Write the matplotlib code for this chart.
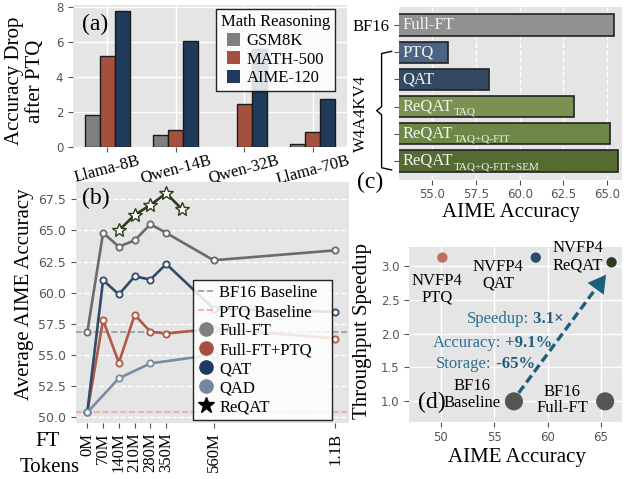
import numpy as np
import matplotlib.pyplot as plt
from matplotlib.lines import Line2D

plt.rcParams['font.family'] = ['Liberation Serif', 'DejaVu Serif']
plt.rcParams['axes.unicode_minus'] = False

BG = '#E5E5E5'
TICK = '#555555'

# (a) accuracy drop after PTQ
models = ['Llama-8B', 'Qwen-14B', 'Qwen-32B', 'Llama-70B']
gsm8k = [1.85, 0.70, 0.0, 0.19]
math500 = [5.21, 0.97, 2.47, 0.83]
aime120 = [7.73, 6.07, 5.6, 2.71]

# (b) AIME accuracy vs fine-tuning tokens
tok_labels = ['0M', '70M', '140M', '210M', '280M', '350M', '560M', '1.1B']
tok_pos = [0, 70, 140, 210, 280, 350, 560, 1100]
fullft_y = [56.8, 64.8, 63.7, 64.2, 65.5, 64.8, 62.6, 63.4]
ftptq_y = [50.35, 57.8, 54.35, 58.2, 56.85, 56.7, 57.1, 56.3]
qat_y = [50.35, 61.0, 59.85, 61.3, 61.05, 62.3, 58.7, 58.45]
qad_x = [0, 140, 280, 560]
qad_y = [50.35, 53.1, 54.3, 55.0]
reqat_x = [140, 210, 280, 350, 420]
reqat_y = [65.0, 66.25, 67.05, 68.0, 66.7]
bf16_base = 56.8
ptq_base = 50.35

# (c) ablation
c_names = ['Full-FT', 'PTQ', 'QAT', 'ReQAT', 'ReQAT', 'ReQAT']
c_subs = ['', '', '', 'TAQ', 'TAQ+Q-FIT', 'TAQ+Q-FIT+SEM']
c_vals = [65.42, 55.9, 58.27, 63.1, 65.17, 65.6]
c_colors = ['#919191', '#4b6483', '#344861', '#7b9150', '#6c8746', '#556b32']

# (d) speedup vs accuracy
d_names = ['NVFP4\nPTQ', 'NVFP4\nQAT', 'NVFP4\nReQAT', 'BF16\nBaseline', 'BF16\nFull-FT']
d_acc = [50.15, 58.9, 66.0, 56.85, 65.4]
d_speed = [3.12, 3.12, 3.05, 1.0, 1.0]
d_colors = ['#c0705a', '#2e4a6a', '#2d3a1e', '#555555', '#555555']
d_sizes = [55, 55, 55, 170, 170]
d_offsets = [(-4, -23), (-27, -13), (-24, 4), (-30, 5), (-31, 1)]


def style_ax(ax, size=8.5):
    ax.set_facecolor(BG)
    for s in ax.spines.values():
        s.set_visible(False)
    ax.tick_params(colors=TICK, length=3.5, width=0.8, labelsize=size)
    ax.set_axisbelow(True)


def sans_ticks(labels):
    for t in labels:
        t.set_fontfamily('DejaVu Sans')
        t.set_color(TICK)


fig = plt.figure(figsize=(6.27, 4.79), dpi=100)
W, H = 627, 479


def box(l, t, r, b):
    return [l / W, 1 - b / H, (r - l) / W, (b - t) / H]


# ---------- (a)
ax = fig.add_axes(box(73, 5, 347, 147))
style_ax(ax)
ax.grid(True, color='white', lw=1.0)
x = np.arange(len(models))
bw = 0.22
ax.bar(x - bw, gsm8k, bw, color='#7f7f7f', edgecolor='#1a1a1a',
       lw=[1 if v > 0 else 0 for v in gsm8k], label='GSM8K')
ax.bar(x, math500, bw, color='#a5503e', edgecolor='#1a1a1a', lw=1, label='MATH-500')
ax.bar(x + bw, aime120, bw, color='#1f3a5a', edgecolor='#1a1a1a', lw=1, label='AIME-120')
ax.set_xlim(-0.5, 3.5)
ax.set_ylim(0, 8.1)
ax.set_yticks([0, 2, 4, 6, 8])
sans_ticks(ax.get_yticklabels())
ax.set_xticks(x)
ax.set_xticklabels(models, rotation=15, fontsize=12, color='black', ha='center')
ax.tick_params(axis='x', pad=0.5)
ax.text(0.08, 0.86, '(a)', transform=ax.transAxes, fontsize=17, ha='center', va='center')
ax.text(-0.175, 0.465, 'Accuracy Drop\nafter PTQ', transform=ax.transAxes, fontsize=15,
        rotation=90, ha='center', va='center', linespacing=1.1)
leg = ax.legend(title='Math Reasoning', loc='upper right', bbox_to_anchor=(0.956, 0.97),
                borderaxespad=0, fontsize=12, title_fontsize=12, fancybox=False,
                edgecolor='black', framealpha=0.85, handlelength=0.8, handleheight=0.8,
                handletextpad=0.4, labelspacing=0.15, borderpad=0.3)
leg.get_frame().set_linewidth(1.0)
for h in leg.legend_handles:
    h.set_edgecolor('none')
    h.set_linewidth(0)

# ---------- (b)
ax = fig.add_axes(box(76, 182, 349, 423))
style_ax(ax, 9)
ax.yaxis.grid(True, color='white', lw=1.0, ls='--')
ax.axhline(bf16_base, color='#9a9a9a', ls='--', lw=1.2, zorder=1)
ax.axhline(ptq_base, color='#f4a6a6', ls='--', lw=1.2, zorder=1)
mk = dict(marker='o', ms=4.5, mfc='white', mew=1.3, lw=1.9)
ax.plot(tok_pos, fullft_y, color='#6b6b6b', mec='#6b6b6b', **mk)
ax.plot(tok_pos, ftptq_y, color='#b05a46', mec='#b05a46', **mk)
ax.plot(tok_pos, qat_y, color='#324b69', mec='#324b69', **mk)
ax.plot(qad_x, qad_y, color='#788ca5', mec='#788ca5', **mk)
ax.plot(reqat_x, reqat_y, color='#2e3d1c', lw=1.9, marker='*', ms=10, mfc='white',
        mec='#2e3d1c', mew=1.0)
ax.set_xlim(-50, 1160)
ax.set_ylim(49.5, 68.9)
yt = np.arange(50, 68, 2.5)
ax.set_yticks(yt)
ax.set_yticklabels([f'{v:.1f}' for v in yt])
sans_ticks(ax.get_yticklabels())
ax.set_xticks(tok_pos)
ax.set_xticklabels(tok_labels, rotation=90, fontsize=12, color='black')
ax.text(0.073, 0.93, '(b)', transform=ax.transAxes, fontsize=17, ha='center', va='center')
ax.text(-0.19, 0.535, 'Average AIME Accuracy', transform=ax.transAxes, fontsize=15,
        rotation=90, ha='center', va='center')
fig.text(48 / W, 1 - 441 / H, 'FT', fontsize=15, ha='center', va='center')
fig.text(50 / W, 1 - 467 / H, 'Tokens', fontsize=15, ha='center', va='center')
handles = [Line2D([], [], color='#9a9a9a', ls='--', lw=1.2),
           Line2D([], [], color='#f4a6a6', ls='--', lw=1.2),
           Line2D([], [], ls='', marker='o', ms=9.5, color='#7f7f7f'),
           Line2D([], [], ls='', marker='o', ms=9.5, color='#a5503e'),
           Line2D([], [], ls='', marker='o', ms=9.5, color='#1f3a5f'),
           Line2D([], [], ls='', marker='o', ms=9.5, color='#7587a0'),
           Line2D([], [], ls='', marker='*', ms=12, color='black')]
names = ['BF16 Baseline', 'PTQ Baseline', 'Full-FT', 'Full-FT+PTQ', 'QAT', 'QAD', 'ReQAT']
lx0 = (192.7 - 76) / 273
lx1 = (331.7 - 76) / 273
leg = ax.legend(handles, names, loc='lower left', mode='expand',
                bbox_to_anchor=(lx0, 0.012, lx1 - lx0, 0.6),
                borderaxespad=0, fontsize=12, fancybox=False, edgecolor='black',
                framealpha=0.85, handlelength=1.0, handletextpad=0.3, labelspacing=0.18,
                borderpad=0.3)
leg.get_frame().set_linewidth(1.0)

# ---------- (c)
ax = fig.add_axes(box(399, 7, 622, 180))
style_ax(ax)
ax.xaxis.grid(True, color='white', lw=1.0, ls='--')
rows = np.arange(len(c_vals))
ax.barh(rows, c_vals, 0.78, color=c_colors, edgecolor='#222222', lw=1.2)
ax.set_xlim(53.1, 65.85)
ax.set_ylim(5.7, -0.66)
ax.set_xticks([55, 57.5, 60, 62.5, 65])
ax.set_xticklabels(['55.0', '57.5', '60.0', '62.5', '65.0'])
sans_ticks(ax.get_xticklabels())
ax.tick_params(axis='x', pad=2.5)
ax.set_yticks(rows)
ax.set_yticklabels(['BF16', '', '', '', '', ''], fontsize=12, color='black')
for i, (n, s) in enumerate(zip(c_names, c_subs)):
    t = ax.text(53.3, i, n, fontsize=12, color='#f2f2f2', ha='left', va='center')
    if s:
        ax.annotate(s, xy=(1.0, 0.0), xycoords=t, xytext=(0.3, -1.5),
                    textcoords='offset points', fontsize=8, color='#f2f2f2',
                    ha='left', va='bottom')
# brace for the W4A4KV4 group
bx, hx, px = -0.078, -0.033, -0.1
tr = ax.get_yaxis_transform()
y0, y1, ym = 0.97, 5.33, 3.15
ax.plot([hx, bx, bx, px, bx, bx, hx], [y0, y0 + 0.08, ym - 0.15, ym, ym + 0.15, y1 - 0.08, y1],
        transform=tr, color='black', lw=1.0, clip_on=False)
ax.text(-0.17, 3.27, 'W4A4KV4', transform=tr, fontsize=12, rotation=90,
        ha='center', va='center')
ax.text(-0.13, -0.016, '(c)', transform=ax.transAxes, fontsize=17, ha='center', va='center')
ax.text(0.5, -0.19, 'AIME Accuracy', transform=ax.transAxes, fontsize=15,
        ha='center', va='center')

# ---------- (d)
ax = fig.add_axes(box(409.3, 246.7, 621.7, 421.7))
style_ax(ax)
ax.grid(True, color='white', lw=1.0)
ax.scatter(d_acc, d_speed, s=d_sizes, c=d_colors, zorder=3, edgecolors='none')
for n, xa, ys, off in zip(d_names, d_acc, d_speed, d_offsets):
    ax.annotate(n, (xa, ys), xytext=off, textcoords='offset points', fontsize=12,
                ha='center', va='center', linespacing=1.05)
ax.set_xlim(47.05, 66.95)
ax.set_ylim(0.7, 3.28)
ax.set_xticks([50, 55, 60, 65])
ax.set_yticks([1.0, 1.5, 2.0, 2.5, 3.0])
ax.set_yticklabels(['1.0', '1.5', '2.0', '2.5', '3.0'])
sans_ticks(ax.get_xticklabels())
sans_ticks(ax.get_yticklabels())
# arrow from BF16 baseline to NVFP4 ReQAT
x0, y0_, x1, y1_ = 57.3, 1.125, 65.64, 2.9
f = 0.86
ax.plot([x0, x0 + f * (x1 - x0)], [y0_, y0_ + f * (y1_ - y0_)], color='#1b5f7c',
        lw=2.4, ls=(0, (2.6, 1.3)), zorder=2)
ax.annotate('', xy=(x1, y1_), xytext=(x0 + 0.85 * (x1 - x0), y0_ + 0.85 * (y1_ - y0_)),
            arrowprops=dict(arrowstyle='-|>,head_length=0.7,head_width=0.4',
                            color='#1b5f7c', lw=0, mutation_scale=18), zorder=2)
ann = [('Speedup:', ' 3.1\u00d7', 52.43, 2.21),
       ('Accuracy:', ' +9.1%', 49.22, 1.86),
       ('Storage:', ' -65%', 49.54, 1.555)]
for a, b, xa, ya in ann:
    t = ax.text(xa, ya, a, fontsize=12, color='#2b6f92', ha='left', va='center')
    ax.annotate(b, xy=(1.0, 0.0), xycoords=t, fontsize=12, color='#1d5e80',
                fontweight='bold', ha='left', va='bottom')
ax.text(0.105, 0.109, '(d)', transform=ax.transAxes, fontsize=17, ha='center', va='center')
ax.text(0.506, -0.207, 'AIME Accuracy', transform=ax.transAxes, fontsize=15,
        ha='center', va='center')
ax.text(-0.218, 0.518, 'Throughput Speedup', transform=ax.transAxes, fontsize=15,
        rotation=90, ha='center', va='center')

fig.savefig('out.png', dpi=100)
